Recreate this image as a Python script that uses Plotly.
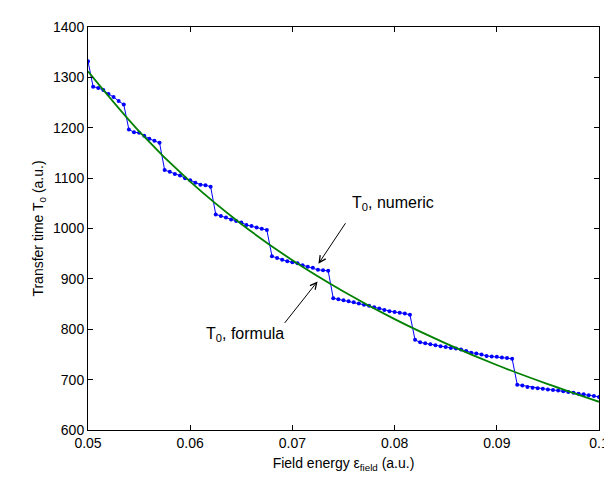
import plotly.graph_objects as go

# numeric T0 sampled every 0.0005 from 0.05 to 0.1
x_start = 0.05
x_step = 0.0005
t0_numeric = [
    1332, 1281.6, 1279, 1275, 1267, 1261, 1253, 1246,
    1196.5, 1191, 1190, 1184, 1178, 1174, 1170,
    1116, 1112.5, 1108, 1105, 1100, 1096, 1091, 1087, 1086, 1083,
    1028, 1025, 1022, 1018, 1015, 1012, 1007, 1005, 1002, 999.5, 997,
    945, 941.5, 938, 935, 933, 931, 927, 924, 922, 918, 917, 916,
    861.5, 859.5, 857.5, 855.5, 853.5, 851, 848.5, 846.5, 843.5, 841, 838,
    835.5, 834, 833, 831.5, 829,
    779, 774, 772, 770, 768, 766.5, 765, 763, 762, 760, 757, 753.5, 752,
    750, 747, 746, 745.5, 744, 743, 741.5,
    690, 688.5, 685.5, 684, 683, 682, 680.5, 679.5, 678.5, 677, 675.5,
    674, 672, 671, 669, 667.5, 665.5,
]
x_numeric = [round(x_start + x_step * i, 4) for i in range(len(t0_numeric))]

# formula curve
x_formula = [0.05, 0.055, 0.06, 0.065, 0.07, 0.075, 0.08, 0.085, 0.09, 0.095, 0.1]
t0_formula = [1312, 1193, 1093, 1009, 937, 875, 820, 772, 729, 691, 656]

x_ticks = [0.05, 0.06, 0.07, 0.08, 0.09, 0.1]
x_ticklabels = ["0.05", "0.06", "0.07", "0.08", "0.09", "0.1"]
y_ticks = [600, 700, 800, 900, 1000, 1100, 1200, 1300, 1400]

fig = go.Figure()
fig.add_trace(go.Scatter(
    x=x_numeric, y=t0_numeric, mode="lines+markers",
    line=dict(color="rgb(0,0,255)", width=1),
    marker=dict(color="rgb(0,0,255)", size=4),
    showlegend=False,
))
fig.add_trace(go.Scatter(
    x=x_formula, y=t0_formula, mode="lines", line_shape="spline",
    line=dict(color="rgb(0,128,0)", width=1.8),
    showlegend=False,
))

font_family = "Liberation Sans, Arial, sans-serif"

fig.update_layout(
    width=612, height=479,
    margin=dict(l=80, r=11, t=12, b=57),
    paper_bgcolor="white", plot_bgcolor="white",
    font=dict(family=font_family, size=14, color="black"),
    xaxis=dict(
        range=[0.05, 0.1], tickvals=x_ticks, ticktext=x_ticklabels,
        showline=True, linecolor="black", linewidth=1, mirror="ticks",
        ticks="inside", ticklen=5, tickcolor="black", showgrid=False, zeroline=False,
        title=dict(text="Field energy ε<sub>field</sub> (a.u.)", standoff=8,
                   font=dict(size=14)),
        tickfont=dict(size=14),
    ),
    yaxis=dict(
        range=[600, 1400], tickvals=y_ticks,
        showline=True, linecolor="black", linewidth=1, mirror="ticks",
        ticks="inside", ticklen=5, tickcolor="black", showgrid=False, zeroline=False,
        title=dict(text="Transfer time T<sub>0</sub> (a.u.)", standoff=6,
                   font=dict(size=14)),
        tickfont=dict(size=14),
    ),
    annotations=[
        dict(x=0.07255, y=930, xref="x", yref="y", text="", showarrow=True,
             ax=28, ay=-42, arrowhead=5, arrowsize=1.3, arrowwidth=1,
             arrowcolor="black", standoff=0),
        dict(x=0.07985, y=1050, xref="x", yref="y",
             text="T<sub>0</sub>, numeric", showarrow=False,
             font=dict(size=16, family=font_family)),
        dict(x=0.07246, y=895, xref="x", yref="y", text="", showarrow=True,
             ax=-34, ay=43, arrowhead=5, arrowsize=1.3, arrowwidth=1,
             arrowcolor="black", standoff=0),
        dict(x=0.0654, y=789, xref="x", yref="y",
             text="T<sub>0</sub>, formula", showarrow=False,
             font=dict(size=16, family=font_family)),
    ],
)

fig.write_html("out.html")
